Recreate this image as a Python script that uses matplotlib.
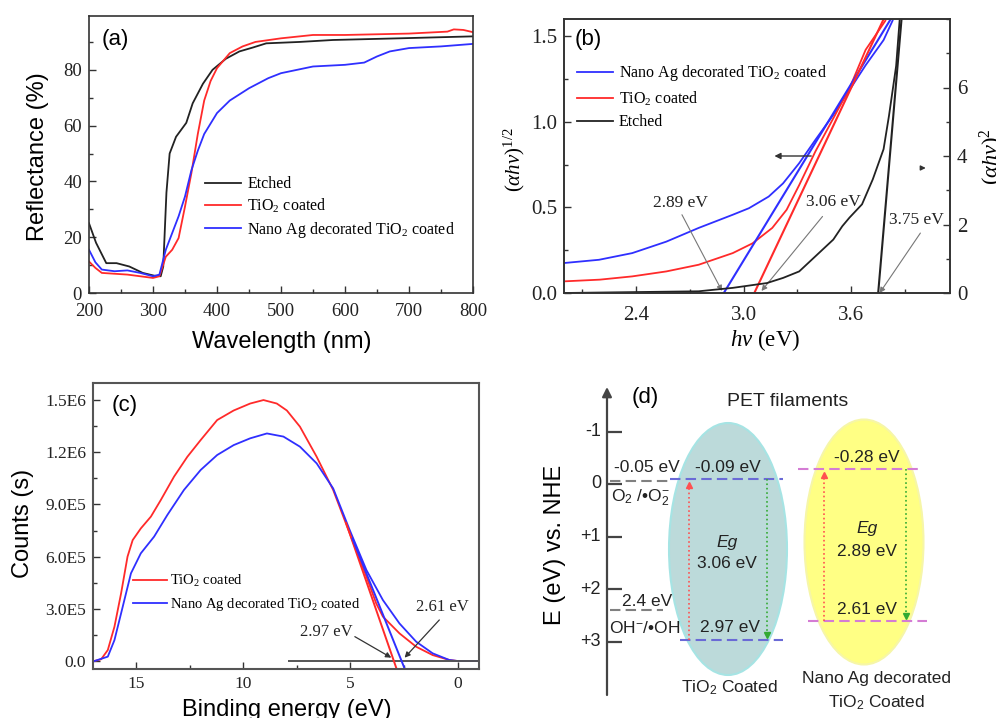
import numpy as np
import matplotlib
matplotlib.use("Agg")
import matplotlib.pyplot as plt
from matplotlib.patches import Ellipse
from matplotlib.ticker import MultipleLocator

plt.rcParams['font.family'] = 'Liberation Serif'
plt.rcParams['mathtext.fontset'] = 'custom'
plt.rcParams['mathtext.rm'] = 'Liberation Serif'
plt.rcParams['mathtext.it'] = 'Liberation Serif:italic'
plt.rcParams['mathtext.sf'] = 'Liberation Sans'
SANS = 'Liberation Sans'

# (a) diffuse reflectance spectra
wl_etched = [200, 211, 227, 243, 263, 284, 302, 312, 316, 321, 326, 336, 352, 362, 378, 393, 414, 435, 456, 477, 529, 581, 685, 800]
r_etched = [25, 18, 10.7, 10.7, 9.5, 7.2, 6.2, 6.0, 9.5, 36, 50, 56, 61, 68, 75, 80, 84, 86.6, 88, 89.5, 90, 90.7, 91.3, 92]
wl_tio2 = [200, 210, 220, 260, 300, 310, 320, 330, 340, 350, 360, 370, 380, 390, 400, 420, 440, 460, 500, 550, 600, 700, 760, 770, 785, 800]
r_tio2 = [11.3, 9, 7.2, 6.6, 5.4, 6, 13, 15.5, 19.7, 31, 43, 57, 69, 76, 80.6, 86, 88.4, 90, 91.3, 92.5, 92.5, 93, 93.7, 94.5, 94.3, 93.5]
wl_ag = [200, 210, 220, 240, 260, 280, 300, 310, 320, 340, 350, 360, 370, 380, 400, 420, 450, 480, 500, 550, 600, 630, 650, 670, 700, 750, 800]
r_ag = [15.5, 11, 8.4, 7.8, 8.1, 7.2, 6, 6.6, 15.5, 27.5, 34.6, 44, 51, 57, 64.5, 69, 73.4, 77, 78.8, 81.2, 81.8, 82.6, 84.8, 86.6, 87.8, 88.4, 89.3]

# (b) Tauc plots
hv_ag = [2.0, 2.195, 2.38, 2.57, 2.75, 2.94, 3.03, 3.14, 3.22, 3.31, 3.40, 3.50, 3.59, 3.68, 3.78, 3.83]
tauc_ag = [0.175, 0.194, 0.233, 0.30, 0.38, 0.457, 0.495, 0.563, 0.64, 0.758, 0.894, 1.04, 1.185, 1.33, 1.477, 1.59]
hv_tio2 = [2.0, 2.2, 2.38, 2.57, 2.75, 2.94, 3.05, 3.16, 3.24, 3.31, 3.40, 3.50, 3.59, 3.68, 3.79]
tauc_tio2 = [0.068, 0.078, 0.097, 0.126, 0.165, 0.233, 0.29, 0.38, 0.486, 0.63, 0.826, 1.02, 1.195, 1.42, 1.59]
hv_etched = [2.0, 2.75, 2.94, 3.13, 3.22, 3.31, 3.40, 3.50, 3.55, 3.59, 3.66, 3.72, 3.78, 3.81, 3.85, 3.87]
tauc_etched = [0, 0.05, 0.15, 0.29, 0.44, 0.63, 1.07, 1.56, 1.95, 2.2, 2.59, 3.32, 4.2, 5.17, 6.63, 8.0]
gap_edges = [2.89, 3.06, 3.75]       # Ag/TiO2, TiO2, etched
gap_slopes = [1.72, 2.22, 61.5]

# (c) valence band XPS
be_tio2 = [16.93, 16.62, 16.31, 16.0, 15.69, 15.39, 15.15, 14.77, 14.3, 13.84, 13.22, 12.6, 11.98, 11.21, 10.44, 9.67, 9.05, 8.43, 7.96, 7.35, 6.57, 5.8, 5.03, 4.25, 3.79, 3.48, 2.71, 1.93, 1.16, 0.39, 0.0, -1.0]
cnt_tio2 = [0, 0.01e6, 0.063e6, 0.197e6, 0.389e6, 0.60e6, 0.695e6, 0.762e6, 0.83e6, 0.925e6, 1.06e6, 1.174e6, 1.27e6, 1.385e6, 1.44e6, 1.48e6, 1.50e6, 1.48e6, 1.44e6, 1.347e6, 1.174e6, 0.983e6, 0.734e6, 0.485e6, 0.33e6, 0.255e6, 0.159e6, 0.082e6, 0.034e6, 0.006e6, 0, 0]
be_ag = [16.93, 16.31, 16.0, 15.69, 15.23, 14.77, 14.15, 13.53, 12.76, 11.98, 11.21, 10.44, 9.67, 8.89, 8.12, 7.35, 6.57, 5.8, 5.03, 4.25, 3.48, 2.71, 1.93, 1.16, 0.39, 0.0, -1.0]
cnt_ag = [0, 0.025e6, 0.12e6, 0.274e6, 0.504e6, 0.619e6, 0.715e6, 0.84e6, 0.983e6, 1.098e6, 1.184e6, 1.241e6, 1.28e6, 1.308e6, 1.29e6, 1.232e6, 1.136e6, 0.992e6, 0.753e6, 0.523e6, 0.35e6, 0.216e6, 0.111e6, 0.044e6, 0.006e6, 0, 0]
vb_edges = [2.97, 2.61]              # TiO2, Ag/TiO2
vb_slopes = [0.356e6, 0.307e6]

# (d) band positions vs NHE
cb_levels = [-0.09, -0.28]
vb_levels = [2.97, 2.61]
redox_levels = [-0.05, 2.4]

W, H = 996, 718
fig = plt.figure(figsize=(W / 100, H / 100), dpi=100)


def box(l, t, r, b):
    return [l / W, 1 - b / H, (r - l) / W, (b - t) / H]


def at(x, y):
    return x / W, 1 - y / H


def style(ax, size, xpad=5, ypad=5):
    ax.tick_params(which='both', direction='in', top=False, right=False,
                   labelsize=size, color='#333', labelcolor='#222', width=1)
    ax.tick_params(axis='x', pad=xpad)
    ax.tick_params(axis='y', pad=ypad)
    ax.tick_params(which='major', length=5)
    ax.tick_params(which='minor', length=3)
    for s in ax.spines.values():
        s.set_color('#333')
        s.set_linewidth(1.2)


RED, BLUE, BLACK = '#ff2a2a', '#2f2fff', '#222222'

# ---- (a)
ax_a = fig.add_axes(box(89, 16, 473, 293))
ax_a.plot(wl_etched, r_etched, color=BLACK, lw=1.3, label='Etched')
ax_a.plot(wl_tio2, r_tio2, color=RED, lw=1.3, label='TiO$_2$ coated')
ax_a.plot(wl_ag, r_ag, color=BLUE, lw=1.3, label='Nano Ag decorated TiO$_2$ coated')
ax_a.set_xlim(200, 800)
ax_a.set_ylim(0, 99.3)
ax_a.xaxis.set_major_locator(MultipleLocator(100))
ax_a.xaxis.set_minor_locator(MultipleLocator(50))
ax_a.set_yticks([0, 20, 40, 60, 80])
ax_a.yaxis.set_minor_locator(MultipleLocator(10))
style(ax_a, 13.5, xpad=7, ypad=5)
ax_a.legend(loc='upper left', bbox_to_anchor=(0.302, 0.422), frameon=False, fontsize=11.5,
            borderpad=0, borderaxespad=0, handlelength=2.25, handletextpad=0.4, labelspacing=0.3)
fig.text(*at(115, 39), '(a)', family=SANS, size=16, ha='center', va='center')
fig.text(*at(38, 157), 'Reflectance (%)', family=SANS, size=17, rotation=90, ha='center', va='center')
fig.text(*at(282, 342), 'Wavelength (nm)', family=SANS, size=17, ha='center', va='center')

# ---- (b)
ax_b = fig.add_axes(box(564, 19, 950, 293))
ax_b2 = ax_b.twinx()
ax_b.plot(hv_ag, tauc_ag, color=BLUE, lw=1.3, label='Nano Ag decorated TiO$_2$ coated')
ax_b.plot(hv_tio2, tauc_tio2, color=RED, lw=1.3, label='TiO$_2$ coated')
ax_b.plot([], [], color=BLACK, lw=1.3, label='Etched')
ax_b2.plot(hv_etched, tauc_etched, color=BLACK, lw=1.3)
for edge, k, c in zip(gap_edges[:2], gap_slopes[:2], [BLUE, RED]):
    ax_b.plot([edge, edge + 1.7 / k], [0, 1.7], color=c, lw=1.5)
ax_b2.plot([gap_edges[2], gap_edges[2] + 8.5 / gap_slopes[2]], [0, 8.5], color=BLACK, lw=1.5)
ax_b.set_xlim(2.0, 4.15)
ax_b.set_ylim(0, 1.6)
ax_b2.set_ylim(0, 8)
ax_b.xaxis.set_major_locator(MultipleLocator(0.6))
ax_b.xaxis.set_minor_locator(MultipleLocator(0.3))
ax_b.set_yticks([0, 0.5, 1.0, 1.5])
ax_b.yaxis.set_minor_locator(MultipleLocator(0.25))
ax_b2.set_yticks([0, 2, 4, 6])
ax_b2.yaxis.set_minor_locator(MultipleLocator(1))
style(ax_b, 15, xpad=9, ypad=5)
style(ax_b2, 15, xpad=9, ypad=5)
ax_b2.tick_params(which='both', left=False, right=True, labelleft=False, labelright=True)
ax_b.legend(loc='upper left', bbox_to_anchor=(0.034, 0.839), frameon=False, fontsize=11.5,
            borderpad=0, borderaxespad=0, handlelength=2.25, handletextpad=0.35, labelspacing=0.4)
arrow_kw = dict(arrowstyle='-|>', color='#777', lw=0.8, mutation_scale=8, shrinkA=0, shrinkB=0)
for edge, tx, ty, ax0, ay0 in [(gap_edges[0], 2.651, 0.525, 2.657, 0.457),
                               (gap_edges[1], 3.498, 0.534, 3.44, 0.447)]:
    ax_b.annotate('', xy=(edge - 0.01 if edge < 3 else edge + 0.04, 0.012), xytext=(ax0, ay0), arrowprops=arrow_kw)
    ax_b.text(tx, ty, f'{edge:.2f} eV', size=12.5, ha='center', va='center', color='#222')
ax_b.annotate('', xy=(gap_edges[2] + 0.008, 0.0), xytext=(3.985, 0.35), arrowprops=arrow_kw)
ax_b.text(3.963, 0.427, f'{gap_edges[2]:.2f} eV', size=12.5, ha='center', va='center', color='#222')
ax_b.annotate('', xy=(3.172, 0.80), xytext=(3.377, 0.80),
              arrowprops=dict(arrowstyle='-|>', color='#333', lw=1.0, mutation_scale=9, shrinkA=0, shrinkB=0))
ax_b.annotate('', xy=(4.015, 0.73), xytext=(3.995, 0.73),
              arrowprops=dict(arrowstyle='-|>', color='#333', lw=1.0, mutation_scale=7, shrinkA=0, shrinkB=0))
fig.text(*at(588, 40), '(b)', family=SANS, size=16, ha='center', va='center')
fig.text(*at(514, 160), r'$(\alpha h\nu)^{1/2}$', size=15, rotation=90, ha='center', va='center')
fig.text(*at(991, 157), r'$(\alpha h\nu)^{2}$', size=16, rotation=90, ha='center', va='center')
fig.text(*at(765, 340), r'$h\nu$ (eV)', size=16.5, ha='center', va='center')

# ---- (c)
ax_c = fig.add_axes(box(93, 383, 479, 669))
ax_c.plot(be_tio2, cnt_tio2, color=RED, lw=1.3, label='TiO$_2$ coated')
ax_c.plot(be_ag, cnt_ag, color=BLUE, lw=1.3, label='Nano Ag decorated TiO$_2$ coated')
ax_c.hlines(0, 7.93, -1, color='#555', lw=1.4)
for edge, k, c, start in zip(vb_edges, vb_slopes, [RED, BLUE], [5.2, 4.9]):
    ax_c.plot([start, edge - 0.12], [k * (start - edge), -0.12 * k], color=c, lw=1.4)
ax_c.set_xlim(17, -1)
ax_c.set_ylim(-0.046e6, 1.598e6)
ax_c.xaxis.set_major_locator(MultipleLocator(5))
ax_c.xaxis.set_minor_locator(MultipleLocator(2.5))
ax_c.set_yticks([0, 3e5, 6e5, 9e5, 1.2e6, 1.5e6],
                ['0.0', '3.0E5', '6.0E5', '9.0E5', '1.2E6', '1.5E6'])
ax_c.yaxis.set_minor_locator(MultipleLocator(1.5e5))
style(ax_c, 12.5)
for s in ax_c.spines.values():
    s.set_color('#555')
    s.set_linewidth(1.5)
ax_c.legend(loc='upper left', bbox_to_anchor=(0.104, 0.336), frameon=False, fontsize=10.5,
            borderpad=0, borderaxespad=0, handlelength=2.3, handletextpad=0.25, labelspacing=0.5)
ax_c.annotate('', xy=(3.09, 0.019e6), xytext=(4.79, 0.14e6),
              arrowprops=dict(arrowstyle='-|>', color='#333', lw=0.9, mutation_scale=8, shrinkA=0, shrinkB=0))
ax_c.text(6.11, 0.169e6, f'{vb_edges[0]:.2f} eV', size=12, ha='center', va='center', color='#222')
ax_c.annotate('', xy=(2.47, 0.019e6), xytext=(0.85, 0.236e6),
              arrowprops=dict(arrowstyle='-|>', color='#333', lw=0.9, mutation_scale=8, shrinkA=0, shrinkB=0))
ax_c.text(0.70, 0.312e6, f'{vb_edges[1]:.2f} eV', size=12, ha='center', va='center', color='#222')
fig.text(*at(125, 405), '(c)', family=SANS, size=16, ha='center', va='center')
fig.text(*at(23, 523), 'Counts (s)', family=SANS, size=17, rotation=90, ha='center', va='center')
fig.text(*at(287, 716), 'Binding energy (eV)', family=SANS, size=17, ha='center', va='baseline')

# ---- (d) band diagram, y in eV vs NHE
E0, PX = 484, 52.5


def ev(y):
    return (y - E0) / PX


ax_d = fig.add_axes(box(500, 360, 996, 718))
ax_d.set_xlim(500, 996)
ax_d.set_ylim(ev(718), ev(360))
ax_d.axis('off')

ax_d.add_patch(Ellipse((728, ev(549)), 118, 252 / PX, fc='#bcdada', ec='#a6e4e4', lw=1.5))
ax_d.add_patch(Ellipse((864, ev(542)), 119, 245 / PX, fc='#ffff84', ec='#f6f6a8', lw=1.5))

ax_d.annotate('', xy=(607, ev(387)), xytext=(607, ev(695)),
              arrowprops=dict(arrowstyle='-|>', color='#444', lw=1.6, mutation_scale=14, shrinkA=0, shrinkB=0))
ticks_d = [-1, 0, 1, 2, 3]
ax_d.hlines(ticks_d, 607, 622, color='#444', lw=1.6)
for t in ticks_d:
    ax_d.text(601, t, f'{t:+d}' if t > 0 else f'{t:d}', family=SANS, size=13, ha='right', va='center', color='#222')

dash = dict(lw=1.5, dashes=(5, 2.5))
ax_d.plot([610, 670], [redox_levels[0]] * 2, color='#808080', **dash)
ax_d.plot([610, 663], [redox_levels[1]] * 2, color='#808080', **dash)
ax_d.plot([670, 783], [cb_levels[0]] * 2, color='#6a6ad6', **dash)
ax_d.plot([680, 783], [vb_levels[0]] * 2, color='#6a6ad6', **dash)
ax_d.plot([798, 923], [cb_levels[1]] * 2, color='#d47cd4', **dash)
ax_d.plot([808, 927], [vb_levels[1]] * 2, color='#d47cd4', **dash)

for x_up, x_dn, cb, vb in [(689, 767, cb_levels[0], vb_levels[0]), (824, 906, cb_levels[1], vb_levels[1])]:
    ax_d.plot([x_up, x_up], [vb, cb + 0.12], color='#ff5050', lw=1.2, ls=':')
    ax_d.plot([x_up], [cb + 0.1], marker='^', ms=4, color='#ff5050')
    ax_d.plot([x_dn, x_dn], [cb, vb - 0.12], color='#33aa33', lw=1.2, ls=':')
    ax_d.plot([x_dn], [vb - 0.1], marker='v', ms=4, color='#33aa33')

txt = dict(family=SANS, size=12.5, ha='center', va='center', color='#222')
ax_d.text(645, ev(398), '(d)', family=SANS, size=16, ha='center', va='center')
ax_d.text(788, ev(402), 'PET filaments', family=SANS, size=14, ha='center', va='center', color='#222')
ax_d.text(647, ev(468), f'{redox_levels[0]:.2f} eV', **txt)
ax_d.text(728, ev(468), f'{cb_levels[0]:.2f} eV', **txt)
ax_d.text(640, ev(497), r'O$_\mathsf{2}$ /•O$_\mathsf{2}^\mathsf{-}$', **txt)
ax_d.text(727, ev(542), 'Eg', style='italic', **txt)
ax_d.text(727, ev(563), f'{vb_levels[0] - cb_levels[0]:.2f} eV', **txt)
ax_d.text(647, ev(602), f'{redox_levels[1]:.1f} eV', **txt)
ax_d.text(645, ev(628), r'OH$^\mathsf{-}$/•OH', **txt)
ax_d.text(730, ev(627), f'{vb_levels[0]:.2f} eV', **txt)
ax_d.text(730, ev(688), r'TiO$_\mathsf{2}$ Coated', **txt)
ax_d.text(867, ev(458), f'{cb_levels[1]:.2f} eV', **txt)
ax_d.text(867, ev(528), 'Eg', style='italic', **txt)
ax_d.text(867, ev(552), f'{vb_levels[1] - cb_levels[1]:.2f} eV', **txt)
ax_d.text(867, ev(610), f'{vb_levels[1]:.2f} eV', **txt)
ax_d.text(877, ev(678), 'Nano Ag decorated', **txt)
ax_d.text(877, ev(703), r'TiO$_\mathsf{2}$ Coated', **txt)
fig.text(*at(555, 545), 'E (eV) vs. NHE', family=SANS, size=17, rotation=90, ha='center', va='center')

fig.savefig('out.png', dpi=100)
